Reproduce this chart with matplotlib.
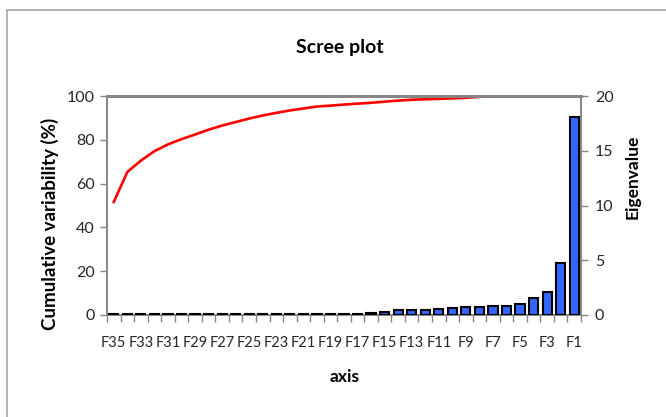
import matplotlib
matplotlib.use("Agg")
import matplotlib.pyplot as plt
from matplotlib.lines import Line2D
from matplotlib.ticker import FixedLocator
import numpy as np

plt.rcParams['font.family'] = ['Lato', 'DejaVu Sans']

# Factors, left to right as displayed
factors = ["F%d" % k for k in range(35, 0, -1)]

# Eigenvalues, listed for F35 ... F1 (left to right)
eigenvalues = [0.05, 0.05, 0.05, 0.05, 0.05, 0.06, 0.06, 0.06, 0.06,
               0.07, 0.07, 0.07, 0.08, 0.08, 0.08, 0.09, 0.09, 0.10,
               0.13, 0.20, 0.25, 0.42, 0.45, 0.45, 0.58, 0.60, 0.72,
               0.72, 0.84, 0.84, 1.05, 1.56, 2.08, 4.78, 18.05]

# Cumulative variability (%) as drawn, left to right
cumulative = [51.6, 65.3, 70.5, 74.8, 77.9, 80.3, 82.4, 84.6, 86.5, 88.1,
              89.7, 91.1, 92.3, 93.4, 94.3, 95.2, 95.6, 96.1, 96.5, 96.9,
              97.4, 97.9, 98.3, 98.5, 98.7, 98.9, 99.2, 99.6, 100, 100,
              100, 100, 100, 100, 100]

left_ticks = [0, 20, 40, 60, 80, 100]
right_ticks = [0, 5, 10, 15, 20]

W, H = 666, 417
fig = plt.figure(figsize=(W / 100, H / 100), dpi=100)
fig.patch.set_facecolor("white")

# outer frame (gray, partly outside the image)
fig.add_artist(Line2D([7 / W, 7 / W], [0, 1 - 10 / H], color="#a6a6a6", lw=1.2,
                      transform=fig.transFigure))
fig.add_artist(Line2D([7 / W, 1], [1 - 10 / H, 1 - 10 / H], color="#a6a6a6", lw=1.2,
                      transform=fig.transFigure))

ax1 = fig.add_axes([107 / W, 1 - 315 / H, 474 / W, 219 / H])
ax2 = ax1.twinx()

x = np.arange(len(factors))
ax2.bar(x, eigenvalues, width=0.68, color="#3366ff", edgecolor="black",
        linewidth=1.5, zorder=3)
ax1.plot(x, cumulative, color="#ff0000", lw=1.9, zorder=3)

ax1.set_xlim(-0.5, len(factors) - 0.5)
ax1.set_ylim(0, 100)
ax2.set_ylim(0, 20)
ax1.set_yticks(left_ticks)
ax2.set_yticks(right_ticks)

# x ticks: marks at boundaries, labels every other factor
ax1.xaxis.set_major_locator(FixedLocator(x[::2]))
ax1.set_xticklabels(factors[::2])
ax1.xaxis.set_minor_locator(FixedLocator(np.arange(len(factors) + 1) - 0.5))
ax1.tick_params(axis="x", which="major", length=0, pad=15, labelsize=10.5,
                colors="#262626")
ax1.tick_params(axis="x", which="minor", length=5, width=1, color="#868686",
                direction="out")
ax1.tick_params(axis="y", length=5, width=1, color="#868686", labelsize=11.5,
                labelcolor="#262626", pad=4)
ax2.tick_params(axis="y", length=5, width=1, color="#868686", labelsize=11.5,
                labelcolor="#262626", pad=5)

for ax in (ax1, ax2):
    for s in ax.spines.values():
        s.set_color("#868686")
        s.set_linewidth(1.2)
ax1.spines["top"].set_linewidth(2)
ax2.spines["top"].set_linewidth(2)

fig.text(50 / W, 1 - 224 / H, "Cumulative variability (%)", rotation=90,
         ha="center", va="center", fontsize=13.5, fontweight="bold")
fig.text(633 / W, 1 - 177 / H, "Eigenvalue", rotation=90,
         ha="center", va="center", fontsize=12.5, fontweight="bold")
fig.text(345 / W, 1 - 377 / H, "axis", ha="center", va="center",
         fontsize=12.5, fontweight="bold")
fig.text(340 / W, 1 - 47 / H, "Scree plot", ha="center", va="center",
         fontsize=14, fontweight="bold")

fig.savefig("out.png", dpi=100, facecolor="white")
